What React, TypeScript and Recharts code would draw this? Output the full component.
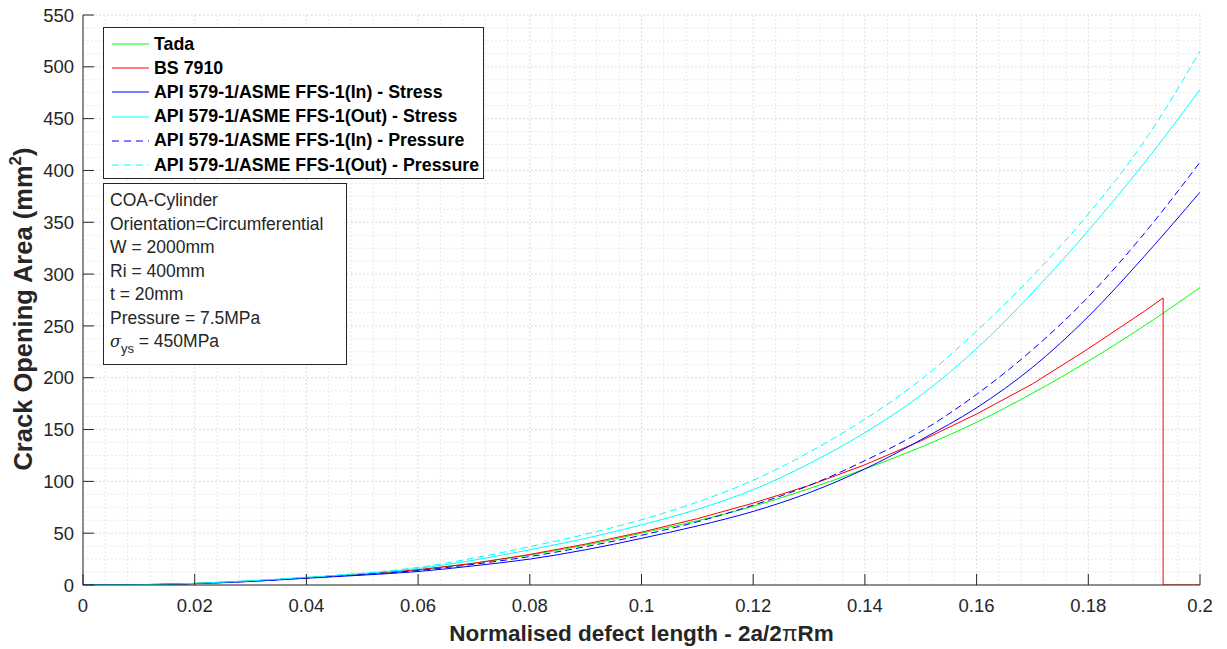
import React from "react";
import { CartesianGrid, Line, LineChart, ReferenceLine, XAxis, YAxis } from "recharts";

// sample positions (normalised defect length)
const X_VALUES = [
  0, 0.01, 0.02, 0.03, 0.04, 0.05, 0.06, 0.07, 0.08, 0.09, 0.1, 0.11, 0.12, 0.13, 0.14, 0.15, 0.16, 0.17,
  0.18, 0.19, 0.2,
];

const TADA = [0, 0.3, 1.5, 3.8, 7, 10.5, 14.5, 21, 29, 38.5, 50, 62, 76, 93, 112, 133, 157, 185, 216, 250, 287];
const API_IN_STRESS = [0, 0.2, 1.3, 3.4, 6.5, 9.5, 13, 18.5, 25, 34, 45, 57, 71, 89, 112, 140, 171, 210, 259, 317, 379];
const API_OUT_STRESS = [0, 0.3, 1.6, 4, 7.3, 11, 16, 24, 34, 45, 58, 73, 92, 117, 147, 183, 228, 282, 342, 407, 478];
const API_IN_PRESSURE = [0, 0.25, 1.4, 3.6, 6.8, 10, 14, 20, 27.5, 37, 48, 61, 77, 96, 120, 148, 184, 227, 278, 339, 408];
const API_OUT_PRESSURE = [0, 0.3, 1.7, 4.2, 7.5, 11.5, 17, 26, 37, 49, 63, 80, 101, 128, 160, 198, 245, 298, 358, 428, 515];

// BS 7910 collapses to zero past its limit
const BS7910_X = [
  0, 0.01, 0.02, 0.03, 0.04, 0.05, 0.06, 0.07, 0.08, 0.09, 0.1, 0.11, 0.12, 0.13, 0.14, 0.15, 0.16, 0.17,
  0.18, 0.19, 0.1934, 0.1934, 0.2,
];
const BS7910 = [0, 0.3, 1.5, 3.8, 7, 10.5, 14.8, 21, 29.5, 39.5, 51, 64, 79, 96, 116, 139, 165, 194, 228, 264, 277, 0, 0];

const X_TICKS = [0, 0.02, 0.04, 0.06, 0.08, 0.1, 0.12, 0.14, 0.16, 0.18, 0.2];
const Y_TICKS = [0, 50, 100, 150, 200, 250, 300, 350, 400, 450, 500, 550];

const INFO_LINES = [
  "COA-Cylinder",
  "Orientation=Circumferential",
  "W = 2000mm",
  "Ri = 400mm",
  "t = 20mm",
  "Pressure = 7.5MPa",
];

const AXIS = "#262626";
const FONT = "'Liberation Sans', Arial, Helvetica, sans-serif";

const toPoints = (xs: number[], ys: number[]) => xs.map((x, i) => ({ x, y: ys[i] }));

const SERIES = [
  { name: "Tada", color: "#00ff00", dash: undefined, data: toPoints(X_VALUES, TADA), type: "monotone" },
  { name: "BS 7910", color: "#ff0000", dash: undefined, data: toPoints(BS7910_X, BS7910), type: "linear" },
  { name: "API 579-1/ASME FFS-1(In) - Stress", color: "#0000ff", dash: undefined, data: toPoints(X_VALUES, API_IN_STRESS), type: "monotone" },
  { name: "API 579-1/ASME FFS-1(Out) - Stress", color: "#00ffff", dash: undefined, data: toPoints(X_VALUES, API_OUT_STRESS), type: "monotone" },
  { name: "API 579-1/ASME FFS-1(In) - Pressure", color: "#0000ff", dash: "7 4", data: toPoints(X_VALUES, API_IN_PRESSURE), type: "monotone" },
  { name: "API 579-1/ASME FFS-1(Out) - Pressure", color: "#00ffff", dash: "7 4", data: toPoints(X_VALUES, API_OUT_PRESSURE), type: "monotone" },
];

// minor grid: 5 per x major, 4 per y major
const X_MINOR: number[] = [];
for (let i = 1; i < 50; i++) if (i % 5 !== 0) X_MINOR.push(i * 0.004);
const Y_MINOR: number[] = [];
for (let i = 1; i < 44; i++) if (i % 4 !== 0) Y_MINOR.push(i * 12.5);

const fmtX = (v: number) => String(Number(v.toFixed(3)));

const BottomTick = (props: any) => {
  const { x, y, payload } = props;
  return (
    <g>
      <line x1={x} x2={x} y1={y} y2={y - 11} stroke={AXIS} />
      <text x={x} y={y + 27} textAnchor="middle" fontSize={18.5} fill={AXIS} fontFamily={FONT}>
        {fmtX(payload.value)}
      </text>
    </g>
  );
};

const TopTick = (props: any) => {
  const { x, y } = props;
  return <line x1={x} x2={x} y1={y} y2={y + 11} stroke={AXIS} />;
};

const LeftTick = (props: any) => {
  const { x, y, payload } = props;
  return (
    <g>
      <line x1={x} x2={x + 11} y1={y} y2={y} stroke={AXIS} />
      <text x={x - 9} y={y} dy="0.36em" textAnchor="end" fontSize={18.5} fill={AXIS} fontFamily={FONT}>
        {payload.value}
      </text>
    </g>
  );
};

const RightTick = (props: any) => {
  const { x, y } = props;
  return <line x1={x} x2={x - 11} y1={y} y2={y} stroke={AXIS} />;
};

const XLabel = (props: any) => {
  const { viewBox } = props;
  const cx = viewBox.x + viewBox.width / 2;
  return (
    <text x={cx} y={641} textAnchor="middle" fontSize={22.5} fontWeight="bold" fill={AXIS} fontFamily={FONT}>
      Normalised defect length - 2a/2<tspan fontWeight="normal">π</tspan>Rm
    </text>
  );
};

const YLabel = (props: any) => {
  const { viewBox } = props;
  const cy = viewBox.y + viewBox.height / 2 + 9;
  return (
    <text
      x={32}
      y={cy}
      transform={`rotate(-90, 32, ${cy})`}
      textAnchor="middle"
      fontSize={25.5}
      fontWeight="bold"
      fill={AXIS}
      fontFamily={FONT}
    >
      Crack Opening Area (mm
      <tspan fontSize={17} dy={-11}>2</tspan>
      <tspan dy={11}>)</tspan>
    </text>
  );
};

export default function App() {
  return (
    <div
      style={{
        position: "absolute",
        left: 0,
        top: 0,
        width: 1227,
        height: 649,
        background: "#fff",
        fontFamily: FONT,
      }}
    >
      <LineChart width={1227} height={649} margin={{ top: 15, right: 27, left: 0, bottom: 0 }}>
        <CartesianGrid stroke="#d2d2d2" strokeDasharray="1.5 2.5" />
        {X_MINOR.map((v) => (
          <ReferenceLine key={"vx" + v} x={v} stroke="#e2e2e2" strokeDasharray="1.5 2.5" />
        ))}
        {Y_MINOR.map((v) => (
          <ReferenceLine key={"hy" + v} y={v} stroke="#e2e2e2" strokeDasharray="1.5 2.5" />
        ))}
        <XAxis
          dataKey="x"
          type="number"
          domain={[0, 0.2]}
          ticks={X_TICKS}
          allowDataOverflow
          height={64}
          tickSize={0}
          tickMargin={0}
          tickLine={false}
          axisLine={{ stroke: AXIS }}
          tick={<BottomTick />}
          interval={0}
          label={<XLabel />}
        />
        <XAxis
          xAxisId="top"
          orientation="top"
          dataKey="x"
          type="number"
          domain={[0, 0.2]}
          ticks={X_TICKS}
          height={0}
          tickSize={0}
          tickMargin={0}
          tickLine={false}
          axisLine={{ stroke: AXIS }}
          tick={<TopTick />}
          interval={0}
        />
        <YAxis
          type="number"
          domain={[0, 550]}
          ticks={Y_TICKS}
          allowDataOverflow
          width={83}
          tickSize={0}
          tickMargin={0}
          tickLine={false}
          axisLine={{ stroke: AXIS }}
          tick={<LeftTick />}
          interval={0}
          label={<YLabel />}
        />
        <YAxis
          yAxisId="right"
          orientation="right"
          type="number"
          domain={[0, 550]}
          ticks={Y_TICKS}
          width={0}
          tickSize={0}
          tickMargin={0}
          tickLine={false}
          axisLine={{ stroke: AXIS }}
          tick={<RightTick />}
          interval={0}
        />
        {SERIES.map((s) => (
          <Line
            key={s.name}
            data={s.data}
            dataKey="y"
            name={s.name}
            type={s.type as any}
            stroke={s.color}
            strokeWidth={1}
            strokeDasharray={s.dash}
            dot={false}
            activeDot={false}
            isAnimationActive={false}
          />
        ))}
      </LineChart>

      {/* legend */}
      <div
        style={{
          position: "absolute",
          left: 103,
          top: 27,
          width: 379,
          height: 146,
          border: `1px solid ${AXIS}`,
          background: "#fff",
          boxSizing: "content-box",
          paddingTop: 4,
        }}
      >
        {SERIES.map((s) => (
          <div key={s.name} style={{ height: 24.2, display: "flex", alignItems: "center" }}>
            <svg width={50} height={10} style={{ flex: "none" }}>
              <line x1={8} x2={45} y1={5} y2={5} stroke={s.color} strokeWidth={1} strokeDasharray={s.dash ? "7 5" : undefined} />
            </svg>
            <span style={{ fontSize: 17.8, fontWeight: "bold", color: "#000", whiteSpace: "nowrap" }}>{s.name}</span>
          </div>
        ))}
      </div>

      {/* parameter box */}
      <div
        style={{
          position: "absolute",
          left: 103,
          top: 183,
          width: 244,
          height: 182,
          border: `1px solid ${AXIS}`,
          background: "#fff",
          paddingTop: 5,
          paddingLeft: 6,
          boxSizing: "border-box",
          fontSize: 17.5,
          color: "#262626",
        }}
      >
        {INFO_LINES.map((t) => (
          <div key={t} style={{ height: 23.5, lineHeight: "23.5px", whiteSpace: "nowrap" }}>
            {t}
          </div>
        ))}
        <div style={{ height: 23.5, lineHeight: "23.5px", whiteSpace: "nowrap" }}>
          <i style={{ fontFamily: "'DejaVu Serif', serif", fontSize: 16 }}>σ</i>
          <span style={{ fontSize: 13, position: "relative", top: 6 }}>ys</span> = 450MPa
        </div>
      </div>
    </div>
  );
}
